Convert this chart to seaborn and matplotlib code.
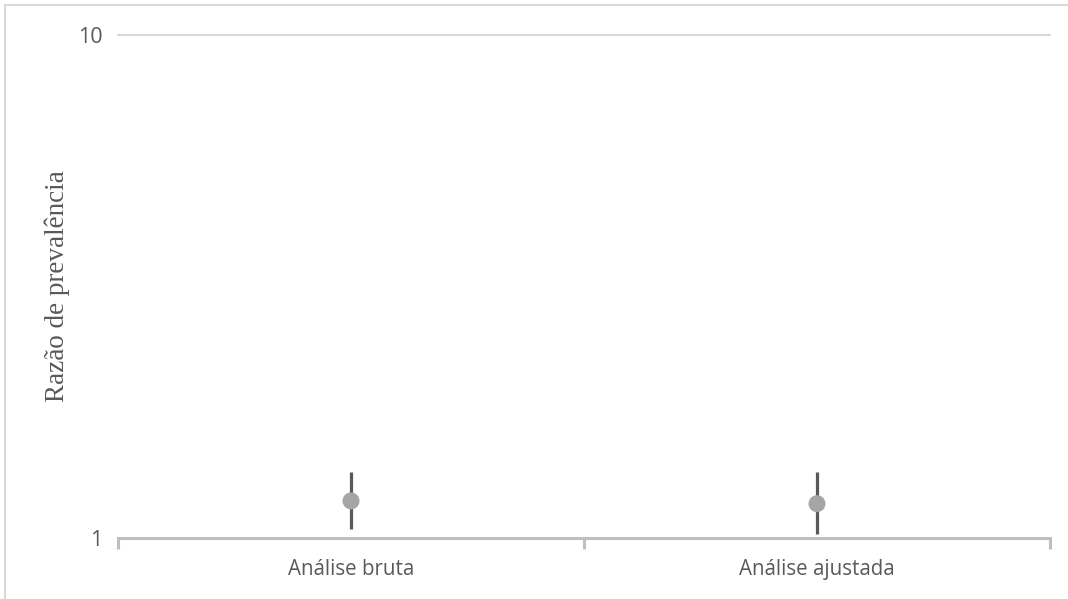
import matplotlib
matplotlib.use("Agg")
import matplotlib.pyplot as plt
import seaborn as sns
import pandas as pd
from matplotlib.patches import Rectangle
from matplotlib.ticker import FixedLocator, NullLocator

categories = ["Análise bruta", "Análise ajustada"]
estimates = [1.185, 1.17]
lower = [1.04, 1.02]
upper = [1.35, 1.35]
y_ticks = [1, 10]
y_label = "Razão de prevalência"

df = pd.DataFrame({"cat": categories, "rp": estimates, "lo": lower, "hi": upper})

sns.set_theme(style="white")
plt.rcParams["font.family"] = ["Open Sans", "DejaVu Sans"]

fig = plt.figure(figsize=(10.68, 5.99), dpi=100)
ax = fig.add_axes([118 / 1068, 1 - 538 / 599, (1050 - 118) / 1068, (538 - 35) / 599])

# figure frame
fig.patches.append(Rectangle((5 / 1068, -0.1), 1.2, (599 - 5) / 599 + 0.1,
                             transform=fig.transFigure, fill=False,
                             edgecolor="#d9d9d9", linewidth=1.5))

ax.set_yscale("log")
ax.set_ylim(1, 10)
ax.set_xlim(-0.5, len(categories) - 0.5)

# grid line at 10
ax.axhline(10, color="#d9d9d9", linewidth=1.5, zorder=0, clip_on=False)

xpos = list(range(len(categories)))
ax.vlines(xpos, df["lo"], df["hi"], color="#595959", linewidth=2.3, zorder=2)
sns.scatterplot(x=xpos, y=df["rp"], ax=ax, s=150, color="#a5a5a5",
                edgecolor="none", zorder=3, legend=False)

ax.yaxis.set_major_locator(FixedLocator(y_ticks))
ax.yaxis.set_minor_locator(NullLocator())
ax.set_yticklabels([str(t) for t in y_ticks])
ax.tick_params(axis="y", length=0, pad=11, labelsize=15.5, labelcolor="#595959")

ax.set_xticks(xpos)
ax.set_xticklabels(categories)
ax.xaxis.set_minor_locator(FixedLocator([-0.5 + i for i in range(len(categories) + 1)]))
ax.tick_params(axis="x", which="major", bottom=False, length=0, pad=15,
               labelsize=14.8, labelcolor="#595959")
ax.tick_params(axis="x", which="minor", bottom=True, length=8, width=2.2,
               color="#bfbfbf", direction="out")

for s in ["top", "right", "left"]:
    ax.spines[s].set_visible(False)
ax.spines["bottom"].set_color("#bfbfbf")
ax.spines["bottom"].set_linewidth(2.2)

ax.set_ylabel(y_label, family=["Liberation Serif", "DejaVu Serif"], fontsize=19.5,
              color="#595959", labelpad=6)
ax.set_xlabel("")

fig.savefig("out.png", dpi=100)
